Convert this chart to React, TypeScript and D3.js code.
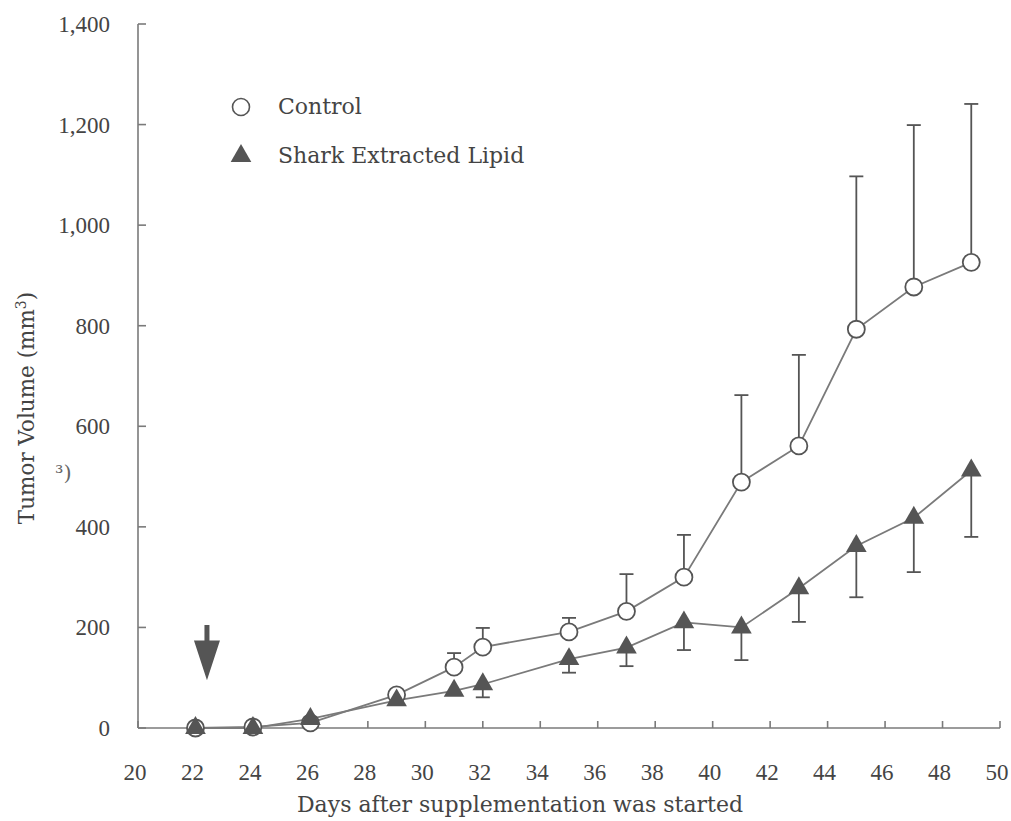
import React from 'react';
import * as d3 from 'd3';

// days measured
const days = [22, 24, 26, 29, 31, 32, 35, 37, 39, 41, 43, 45, 47, 49];
// Control group mean and upper error (mm3)
const controlMean = [0, 2, 10, 66, 121, 161, 191, 232, 300, 489, 561, 793, 877, 926];
const controlErr = [0, 0, 0, 0, 28, 38, 28, 74, 84, 173, 181, 304, 322, 315];
// Shark extracted lipid group mean and lower error (mm3)
const lipidMean = [0, 0, 18, 55, 74, 87, 137, 160, 210, 200, 278, 362, 418, 512];
const lipidErr = [0, 0, 0, 0, 0, 26, 27, 37, 55, 65, 67, 102, 108, 132];

const xTicks = d3.range(20, 51, 2);
const yTicks = d3.range(0, 1401, 200);

// arrow marking start of supplementation
const arrowDay = 22.4;
const arrowTop = 205;
const arrowNeck = 174;
const arrowTip = 95;

const W = 1011;
const H = 821;
const margin = { top: 24, right: 11, bottom: 93, left: 138 };

const ink = '#444';
const lineCol = '#7a7a7a';
const markCol = '#555';
const serif = '"Liberation Serif", "Times New Roman", serif';
const wide = '"DejaVu Serif", serif';

const App = () => {
  const x = d3.scaleLinear().domain([20, 50]).range([margin.left, W - margin.right]);
  const y = d3.scaleLinear().domain([0, 1400]).range([H - margin.bottom, margin.top]);

  const control = days.map((d, i) => ({ d, v: controlMean[i], e: controlErr[i] }));
  const lipid = days.map((d, i) => ({ d, v: lipidMean[i], e: lipidErr[i] }));

  const line = d3.line<{ d: number; v: number }>()
    .x(p => x(p.d))
    .y(p => y(p.v));

  const tri = d3.symbol().type(d3.symbolTriangle).size(185)();
  const cap = 7;

  const ax = x(arrowDay);
  const arrowPath = `M${ax - 2.5},${y(arrowTop)} L${ax + 2.5},${y(arrowTop)} L${ax + 2.5},${y(arrowNeck)} ` +
    `L${ax + 13},${y(arrowNeck)} L${ax},${y(arrowTip)} L${ax - 13},${y(arrowNeck)} L${ax - 2.5},${y(arrowNeck)} Z`;

  return (
    <svg width={W} height={H} style={{ position: 'absolute', left: 0, top: 0, background: '#fff' }}>
      {/* axes */}
      <g stroke={lineCol} strokeWidth={1.6} fill="none">
        <line x1={x(20)} x2={x(20)} y1={y(0)} y2={y(1400)} />
        <line x1={x(20)} x2={x(50)} y1={y(0)} y2={y(0)} />
        {yTicks.map(t => (
          <line key={'yt' + t} x1={x(20)} x2={x(20) + 8} y1={y(t)} y2={y(t)} />
        ))}
        {xTicks.map(t => (
          <line key={'xt' + t} x1={x(t)} x2={x(t)} y1={y(0)} y2={y(0) - 7} />
        ))}
      </g>
      <g fill={ink} fontFamily={serif} fontSize={23}>
        {yTicks.map(t => (
          <text key={'yl' + t} x={x(20) - 28} y={y(t)} dy="0.35em" textAnchor="end">
            {d3.format(',')(t)}
          </text>
        ))}
        {xTicks.map(t => (
          <text key={'xl' + t} x={x(t) - 3} y={y(0) + 52} textAnchor="middle">{t}</text>
        ))}
      </g>
      <text x={520} y={812} textAnchor="middle" fontFamily={wide} fontSize={22} fill={ink}>
        Days after supplementation was started
      </text>
      <text transform="translate(34,408) rotate(-90)" textAnchor="middle" fontFamily={wide} fontSize={21.5} fill={ink}>
        Tumor Volume (mm<tspan fontSize={14} dy={-8}>3</tspan><tspan dy={8}>)</tspan>
      </text>
      <text x={55} y={480} fontFamily={wide} fontSize={21} fill="#666">³)</text>

      {/* arrow */}
      <path d={arrowPath} fill={markCol} />

      {/* lines */}
      <path d={line(control) || ''} fill="none" stroke={lineCol} strokeWidth={1.8} />
      <path d={line(lipid) || ''} fill="none" stroke={lineCol} strokeWidth={1.8} />

      {/* error bars */}
      <g stroke={markCol} strokeWidth={1.8}>
        {control.filter(p => p.e > 0).map(p => (
          <g key={'ce' + p.d}>
            <line x1={x(p.d)} x2={x(p.d)} y1={y(p.v)} y2={y(p.v + p.e)} />
            <line x1={x(p.d) - cap} x2={x(p.d) + cap} y1={y(p.v + p.e)} y2={y(p.v + p.e)} />
          </g>
        ))}
        {lipid.filter(p => p.e > 0).map(p => (
          <g key={'le' + p.d}>
            <line x1={x(p.d)} x2={x(p.d)} y1={y(p.v)} y2={y(p.v - p.e)} />
            <line x1={x(p.d) - cap} x2={x(p.d) + cap} y1={y(p.v - p.e)} y2={y(p.v - p.e)} />
          </g>
        ))}
      </g>

      {/* markers */}
      {control.map(p => (
        <circle key={'c' + p.d} cx={x(p.d)} cy={y(p.v)} r={8.5} fill="#fff" stroke={markCol} strokeWidth={1.8} />
      ))}
      {lipid.map(p => (
        <path key={'t' + p.d} d={tri || ''} transform={`translate(${x(p.d)},${y(p.v)})`} fill={markCol} />
      ))}

      {/* legend */}
      <circle cx={241} cy={107} r={8.5} fill="#fff" stroke={markCol} strokeWidth={1.6} />
      <path d={tri || ''} transform="translate(241,156)" fill={markCol} />
      <g fontFamily={wide} fontSize={22} fill={ink}>
        <text x={278} y={114}>Control</text>
        <text x={278} y={163}>Shark Extracted Lipid</text>
      </g>
    </svg>
  );
};

export default App;
